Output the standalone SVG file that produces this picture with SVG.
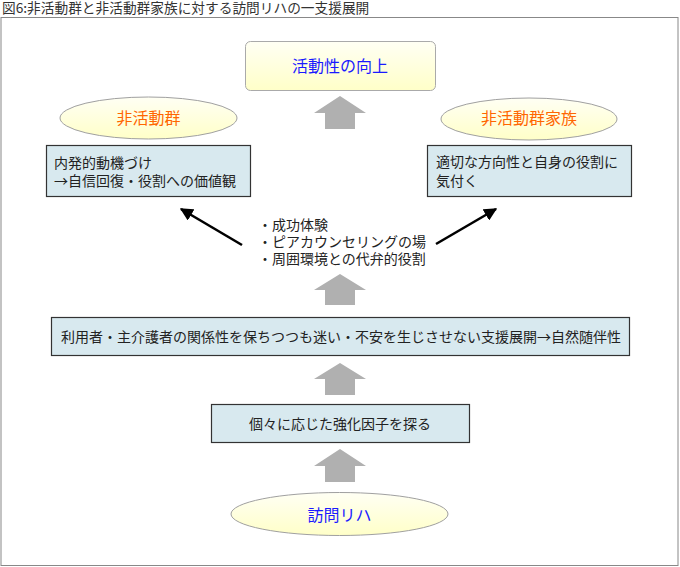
<svg xmlns="http://www.w3.org/2000/svg" width="680" height="567" viewBox="0 0 680 567">
<style>
text{font-family:"Noto Sans CJK JP","Noto Sans",sans-serif;}
.t{font-size:14px;fill:#222;}
.big{font-size:16px;text-anchor:middle;}
.blue{fill:#1a1aff;}
.orange{fill:#ff6600;}
.box{fill:#d8e9ef;stroke:#333;stroke-width:1.2;}
.ell{fill:url(#yg);stroke:#a0a0a0;stroke-width:1;}
.up{fill:#b0b0b0;}
.blk{stroke:#000;stroke-width:2.6;fill:none;marker-end:url(#ah);}
</style>
<defs>
<linearGradient id="yg" x1="0" y1="0" x2="0" y2="1">
<stop offset="0" stop-color="#fffff4"/>
<stop offset="1" stop-color="#ffffc8"/>
</linearGradient>
<marker id="ah" viewBox="0 0 10 10" refX="9" refY="5" markerWidth="5" markerHeight="5" orient="auto" markerUnits="strokeWidth">
<path d="M0,0 L10,5 L0,10 z" fill="#000"/>
</marker>
</defs>
<rect width="680" height="567" fill="#fff"/>
<text x="2" y="13" style="font-size:13.7px;fill:#333;">図6:非活動群と非活動群家族に対する訪問リハの一支援展開</text>
<rect x="1" y="17.5" width="677" height="548" fill="none" stroke="#888" stroke-width="1"/>

<g id="top">
<rect x="245.5" y="41.5" width="190" height="49" rx="5" fill="url(#yg)" stroke="#aaa" stroke-width="1"/>
<text x="340" y="72" class="big blue">活動性の向上</text>
</g>
<g id="ell-left">
<ellipse cx="148.5" cy="118" rx="88.5" ry="21" class="ell"/>
<text x="148.5" y="123.5" class="big orange">非活動群</text>
</g>
<g id="ell-right">
<ellipse cx="529" cy="119" rx="88" ry="21" class="ell"/>
<text x="529" y="124" class="big orange">非活動群家族</text>
</g>
<g id="box-left">
<rect x="46.5" y="145.5" width="204" height="51" class="box"/>
<text x="54" y="167.5" class="t">内発的動機づけ</text>
<text x="54" y="186" class="t">→自信回復・役割への価値観</text>
</g>
<g id="box-right">
<rect x="427.5" y="145.5" width="204" height="51" class="box"/>
<text x="436" y="167" class="t">適切な方向性と自身の役割に</text>
<text x="436" y="185.5" class="t">気付く</text>
</g>
<g id="bullets">
<text x="258" y="230" class="t">・成功体験</text>
<text x="258" y="247" class="t">・ピアカウンセリングの場</text>
<text x="258" y="264" class="t">・周囲環境との代弁的役割</text>
</g>
<g id="box-main">
<rect x="51.5" y="317.5" width="578" height="38" class="box"/>
<text x="341" y="341.5" class="t" text-anchor="middle">利用者・主介護者の関係性を保ちつつも迷い・不安を生じさせない支援展開→自然随伴性</text>
</g>
<g id="box-factor">
<rect x="211.5" y="404.5" width="258" height="38" class="box"/>
<text x="340" y="428.5" class="t" text-anchor="middle">個々に応じた強化因子を探る</text>
</g>
<g id="ell-bottom">
<ellipse cx="339.5" cy="514" rx="108.5" ry="21.5" class="ell"/>
<text x="339.5" y="520.5" class="big blue">訪問リハ</text>
</g>

<g id="connectors">
<path class="up" d="M340,96 L366,113 L355,113 L355,129 L325,129 L325,113 L314,113 Z"/>
<path class="up" d="M340,274 L366,290 L355,290 L355,305 L325,305 L325,290 L314,290 Z"/>
<path class="up" d="M340,363 L366,379 L355,379 L355,395 L325,395 L325,379 L314,379 Z"/>
<path class="up" d="M340,449 L366,466 L355,466 L355,482 L325,482 L325,466 L314,466 Z"/>
<line class="blk" x1="242" y1="245" x2="181" y2="209"/>
<line class="blk" x1="436" y1="244" x2="496" y2="209"/>
</g>
</svg>
